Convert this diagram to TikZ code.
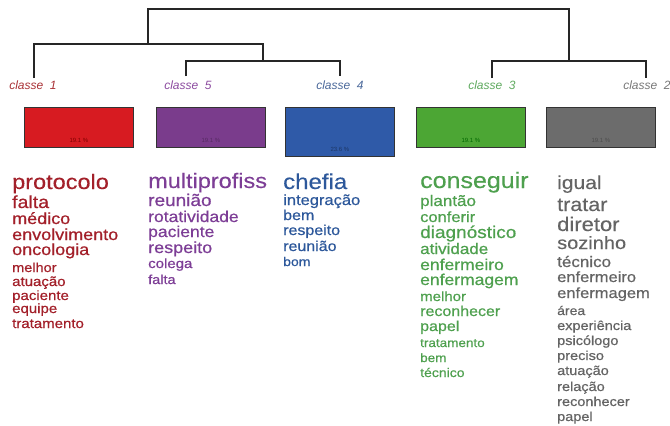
\documentclass[tikz,border=0pt]{standalone}
\usepackage{fontspec}
\setmainfont{Liberation Sans}
\newfontfamily\wordfont[FakeStretch=1.12,FakeBold=0.6]{Liberation Sans}
\newfontfamily\bigwordfont[FakeStretch=1.12,FakeBold=0.2]{Liberation Sans}
\definecolor{cRed}{RGB}{215,27,33}
\definecolor{cPur}{RGB}{122,60,140}
\definecolor{cBlu}{RGB}{47,90,168}
\definecolor{cGrn}{RGB}{76,166,52}
\definecolor{cGry}{RGB}{108,108,108}
\definecolor{tRed}{RGB}{163,32,42}
\definecolor{tPur}{RGB}{125,62,150}
\definecolor{tBlu}{RGB}{45,88,155}
\definecolor{tGrn}{RGB}{78,160,78}
\definecolor{tGry}{RGB}{100,100,100}
\definecolor{lRed}{RGB}{170,50,55}
\definecolor{lPur}{RGB}{140,75,160}
\definecolor{lBlu}{RGB}{75,105,155}
\definecolor{lGrn}{RGB}{95,170,95}
\definecolor{lGry}{RGB}{120,120,120}
\newcommand{\fs}[1]{\fontsize{#1}{#1}\selectfont}
\newcommand{\ws}[1]{\pgfmathsetmacro\wsz{#1/1.12}\wordfont\fontsize{\wsz pt}{\wsz pt}\selectfont}
\newcommand{\wb}[1]{\pgfmathsetmacro\wsz{#1/1.12}\bigwordfont\fontsize{\wsz pt}{\wsz pt}\selectfont}
\tikzset{
  tree/.style={draw=black!85, line width=1.1pt},
  clabel/.style={font=\fs{12}\itshape, inner sep=0pt, anchor=base},
  clbox/.style={draw=black!80, line width=0.8pt, inner sep=0pt, anchor=north west},
  pct/.style={font=\fs{6}, inner sep=0pt, anchor=base},
  word/.style={inner sep=0pt, anchor=base west},
}
\begin{document}
\begin{tikzpicture}[x=1pt,y=-1pt]
\useasboundingbox (0,0) rectangle (670,426);
\fill[white] (0,0) rectangle (670,426);
% dendrogram
\coordinate (top1) at (148,9);
\coordinate (top2) at (569,9);
\coordinate (a1) at (34,44);
\coordinate (a2) at (263,44);
\coordinate (b1) at (186,61);
\coordinate (b2) at (340,61);
\coordinate (c1) at (492,61);
\coordinate (c2) at (646,61);
\coordinate (l1) at (34,78);
\coordinate (l5) at (186,76);
\coordinate (l4) at (340,76);
\coordinate (l3) at (492,78);
\coordinate (l2) at (646,78);
\draw[tree] (top1 |- a1) -- (top1) -- (top2) -- (top2 |- c1);
\draw[tree] (l1) -- (a1) -- (a2) -- (a2 |- b1);
\draw[tree] (l5) -- (b1) -- (b2) -- (l4);
\draw[tree] (l3) -- (c1) -- (c2) -- (l2);
% class labels
\node[clabel, text=lRed] (k1) at (33,89) {classe\ \ 1};
\node[clabel, text=lPur] (k5) at (188,89) {classe\ \ 5};
\node[clabel, text=lBlu] (k4) at (340,89) {classe\ \ 4};
\node[clabel, text=lGrn] (k3) at (492,89) {classe\ \ 3};
\node[clabel, text=lGry] (k2) at (647,89) {classe\ \ 2};
% boxes
\node[clbox, fill=cRed, minimum width=109pt, minimum height=40pt] (b1x) at (24,107) {};
\node[clbox, fill=cPur, minimum width=109pt, minimum height=40pt] (b5x) at (156,107) {};
\node[clbox, fill=cBlu, minimum width=109pt, minimum height=49pt] (b4x) at (285,107) {};
\node[clbox, fill=cGrn, minimum width=109pt, minimum height=40pt] (b3x) at (416,107) {};
\node[clbox, fill=cGry, minimum width=109pt, minimum height=40pt] (b2x) at (546,107) {};
\node[pct, text=red!50!black] (p1) at ([yshift=5pt]b1x.south) {19.1 \%};
\node[pct, text=cPur!70!black] (p5) at ([yshift=5pt]b5x.south) {19.1 \%};
\node[pct, text=cBlu!60!black] (p4) at ([yshift=5pt]b4x.south) {23.6 \%};
\node[pct, text=green!40!black] (p3) at ([yshift=5pt]b3x.south) {19.1 \%};
\node[pct, text=black!70] (p2) at ([yshift=5pt]b2x.south) {19.1 \%};
% column 1
\begin{scope}[every node/.style={word, text=tRed}]
\node[font=\wb{23.5}] (w1a) at (12,189) {protocolo};
\node[font=\ws{19.5}] (w1b) at (12,208) {falta};
\node[font=\ws{18}] (w1c) at (12,224) {médico};
\node[font=\ws{18}] (w1d) at (12,240) {envolvimento};
\node[font=\ws{18}] (w1e) at (12,255) {oncologia};
\node[font=\ws{14.5}] (w1f) at (12,272) {melhor};
\node[font=\ws{15}] (w1g) at (12,286) {atuação};
\node[font=\ws{15}] (w1h) at (12,300) {paciente};
\node[font=\ws{15}] (w1i) at (12,313) {equipe};
\node[font=\ws{15}] (w1j) at (12,328) {tratamento};
\end{scope}
% column 2
\begin{scope}[every node/.style={word, text=tPur}]
\node[font=\wb{23.5}] (w5a) at (148,188) {multiprofiss};
\node[font=\ws{19}] (w5b) at (148,206) {reunião};
\node[font=\ws{17.5}] (w5c) at (148,222) {rotatividade};
\node[font=\ws{17.5}] (w5d) at (148,237) {paciente};
\node[font=\ws{18}] (w5e) at (148,253) {respeito};
\node[font=\ws{15}] (w5f) at (148,268) {colega};
\node[font=\ws{14.5}] (w5g) at (148,284) {falta};
\end{scope}
% column 3
\begin{scope}[every node/.style={word, text=tBlu}]
\node[font=\wb{24}] (w4a) at (283,189) {chefia};
\node[font=\ws{16.5}] (w4b) at (283,205) {integração};
\node[font=\ws{16}] (w4c) at (283,220) {bem};
\node[font=\ws{16}] (w4d) at (283,235) {respeito};
\node[font=\ws{16}] (w4e) at (283,251) {reunião};
\node[font=\ws{14}] (w4f) at (283,266) {bom};
\end{scope}
% column 4
\begin{scope}[every node/.style={word, text=tGrn}]
\node[font=\wb{25}] (w3a) at (420,188) {conseguir};
\node[font=\ws{17}] (w3b) at (420,206) {plantão};
\node[font=\ws{16.5}] (w3c) at (420,222) {conferir};
\node[font=\ws{19}] (w3d) at (420,238) {diagnóstico};
\node[font=\ws{17}] (w3e) at (420,254) {atividade};
\node[font=\ws{17.5}] (w3f) at (420,270) {enfermeiro};
\node[font=\ws{17.5}] (w3g) at (420,285) {enfermagem};
\node[font=\ws{15}] (w3h) at (420,301) {melhor};
\node[font=\ws{16}] (w3i) at (420,316) {reconhecer};
\node[font=\ws{16}] (w3j) at (420,331) {papel};
\node[font=\ws{13.5}] (w3k) at (420,347) {tratamento};
\node[font=\ws{13.5}] (w3l) at (420,362) {bem};
\node[font=\ws{14}] (w3m) at (420,377) {técnico};
\end{scope}
% column 5
\begin{scope}[every node/.style={word, text=tGry}]
\node[font=\wb{21}] (w2a) at (557,189) {igual};
\node[font=\wb{21.5}] (w2b) at (557,211) {tratar};
\node[font=\wb{22}] (w2c) at (557,231) {diretor};
\node[font=\wb{20}] (w2d) at (557,249) {sozinho};
\node[font=\ws{17}] (w2e) at (557,267) {técnico};
\node[font=\ws{16.5}] (w2f) at (557,282) {enfermeiro};
\node[font=\ws{16.5}] (w2g) at (557,298) {enfermagem};
\node[font=\ws{14}] (w2h) at (557,315) {área};
\node[font=\ws{14.5}] (w2i) at (557,330) {experiência};
\node[font=\ws{14.5}] (w2j) at (557,345) {psicólogo};
\node[font=\ws{14.5}] (w2k) at (557,360) {preciso};
\node[font=\ws{14.5}] (w2l) at (557,375) {atuação};
\node[font=\ws{14.5}] (w2m) at (557,391) {relação};
\node[font=\ws{14.5}] (w2n) at (557,406) {reconhecer};
\node[font=\ws{14.5}] (w2o) at (557,421) {papel};
\end{scope}
\end{tikzpicture}
\end{document}
